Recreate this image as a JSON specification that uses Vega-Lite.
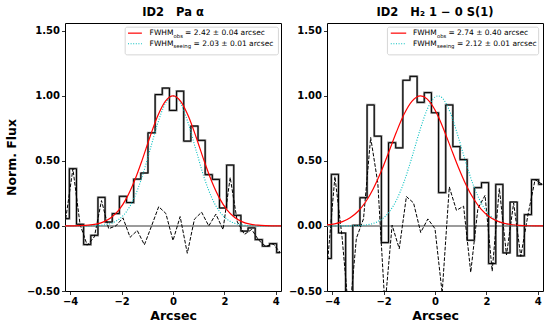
{
  "$schema": "https://vega.github.io/schema/vega-lite/v6.json",
  "padding": {"left": 4, "top": 6, "right": 5, "bottom": 3},
  "spacing": 46,
  "bounds": "flush",
  "datasets": {
    "one": [{}],
    "histL": [
      {"x": -4.17, "f": 0.056, "r": 0.056},
      {"x": -3.892, "f": 0.44, "r": 0.439},
      {"x": -3.614, "f": 0.013, "r": 0.011},
      {"x": -3.336, "f": -0.143, "r": -0.148},
      {"x": -3.058, "f": -0.072, "r": -0.084},
      {"x": -2.78, "f": 0.22, "r": 0.195},
      {"x": -2.502, "f": 0.03, "r": -0.021},
      {"x": -2.224, "f": 0.095, "r": 0.0},
      {"x": -1.946, "f": 0.228, "r": 0.062},
      {"x": -1.668, "f": 0.18, "r": -0.087},
      {"x": -1.39, "f": 0.36, "r": -0.035},
      {"x": -1.112, "f": 0.407, "r": -0.145},
      {"x": -0.834, "f": 0.716, "r": 0.0},
      {"x": -0.556, "f": 1.01, "r": 0.148},
      {"x": -0.278, "f": 1.06, "r": 0.096},
      {"x": 0.0, "f": 0.888, "r": -0.112},
      {"x": 0.278, "f": 1.036, "r": 0.072},
      {"x": 0.556, "f": 0.652, "r": -0.21},
      {"x": 0.834, "f": 0.768, "r": 0.052},
      {"x": 1.112, "f": 0.658, "r": 0.106},
      {"x": 1.39, "f": 0.394, "r": 0.0},
      {"x": 1.668, "f": 0.358, "r": 0.091},
      {"x": 1.946, "f": 0.138, "r": -0.028},
      {"x": 2.224, "f": 0.468, "r": 0.373},
      {"x": 2.502, "f": 0.082, "r": 0.031},
      {"x": 2.78, "f": -0.04, "r": -0.065},
      {"x": 3.058, "f": -0.015, "r": -0.027},
      {"x": 3.336, "f": -0.105, "r": -0.11},
      {"x": 3.614, "f": -0.156, "r": -0.158},
      {"x": 3.892, "f": -0.136, "r": -0.137},
      {"x": 4.17, "f": -0.205, "r": -0.205}
    ],
    "histR": [
      {"x": -4.17, "f": -0.25, "r": -0.258},
      {"x": -3.892, "f": 0.397, "r": 0.38},
      {"x": -3.614, "f": -0.054, "r": -0.086},
      {"x": -3.336, "f": -0.65, "r": -0.71},
      {"x": -3.058, "f": 0.005, "r": -0.095},
      {"x": -2.78, "f": 0.217, "r": 0.055},
      {"x": -2.502, "f": 0.93, "r": 0.68},
      {"x": -2.224, "f": 0.69, "r": 0.33},
      {"x": -1.946, "f": -0.128, "r": -0.618},
      {"x": -1.668, "f": 0.64, "r": 0.006},
      {"x": -1.39, "f": 0.6, "r": -0.175},
      {"x": -1.112, "f": 1.12, "r": 0.226},
      {"x": -0.834, "f": 1.15, "r": 0.177},
      {"x": -0.556, "f": 0.95, "r": -0.05},
      {"x": -0.278, "f": 1.025, "r": 0.054},
      {"x": 0.0, "f": 0.87, "r": -0.021},
      {"x": 0.278, "f": 0.256, "r": -0.515},
      {"x": 0.556, "f": 0.93, "r": 0.3},
      {"x": 0.834, "f": 0.61, "r": 0.12},
      {"x": 1.112, "f": 0.51, "r": 0.152},
      {"x": 1.39, "f": -0.11, "r": -0.356},
      {"x": 1.668, "f": 0.294, "r": 0.134},
      {"x": 1.946, "f": 0.333, "r": 0.235},
      {"x": 2.224, "f": -0.289, "r": -0.347},
      {"x": 2.502, "f": 0.32, "r": 0.289},
      {"x": 2.78, "f": -0.207, "r": -0.223},
      {"x": 3.058, "f": 0.184, "r": 0.176},
      {"x": 3.336, "f": -0.23, "r": -0.234},
      {"x": 3.614, "f": 0.087, "r": 0.085},
      {"x": 3.892, "f": 0.356, "r": 0.356},
      {"x": 4.17, "f": 0.32, "r": 0.32}
    ],
    "curveL": [
      {"x": -4.2, "obs": 0.0002, "see": 0.0},
      {"x": -3.9, "obs": 0.0008, "see": 0.0},
      {"x": -3.6, "obs": 0.0022, "see": 0.0002},
      {"x": -3.3, "obs": 0.0058, "see": 0.0007},
      {"x": -3.0, "obs": 0.0141, "see": 0.0023},
      {"x": -2.7, "obs": 0.0317, "see": 0.0074},
      {"x": -2.4, "obs": 0.0655, "see": 0.0207},
      {"x": -2.1, "obs": 0.124, "see": 0.0514},
      {"x": -1.8, "obs": 0.216, "see": 0.113},
      {"x": -1.5, "obs": 0.345, "see": 0.22},
      {"x": -1.2, "obs": 0.506, "see": 0.379},
      {"x": -0.9, "obs": 0.682, "see": 0.58},
      {"x": -0.6, "obs": 0.843, "see": 0.785},
      {"x": -0.3, "obs": 0.958, "see": 0.941},
      {"x": 0.0, "obs": 1.0, "see": 1.0},
      {"x": 0.3, "obs": 0.958, "see": 0.941},
      {"x": 0.6, "obs": 0.843, "see": 0.785},
      {"x": 0.9, "obs": 0.682, "see": 0.58},
      {"x": 1.2, "obs": 0.506, "see": 0.379},
      {"x": 1.5, "obs": 0.345, "see": 0.22},
      {"x": 1.8, "obs": 0.216, "see": 0.113},
      {"x": 2.1, "obs": 0.124, "see": 0.0514},
      {"x": 2.4, "obs": 0.0655, "see": 0.0207},
      {"x": 2.7, "obs": 0.0317, "see": 0.0074},
      {"x": 3.0, "obs": 0.0141, "see": 0.0023},
      {"x": 3.3, "obs": 0.0058, "see": 0.0007},
      {"x": 3.6, "obs": 0.0022, "see": 0.0002},
      {"x": 3.9, "obs": 0.0008, "see": 0.0},
      {"x": 4.2, "obs": 0.0002, "see": 0.0}
    ],
    "curveR": [
      {"x": -4.2, "obs": 0.0075, "see": 0.0},
      {"x": -3.9, "obs": 0.0162, "see": 0.0001},
      {"x": -3.6, "obs": 0.033, "see": 0.0002},
      {"x": -3.3, "obs": 0.0625, "see": 0.0007},
      {"x": -3.0, "obs": 0.111, "see": 0.0025},
      {"x": -2.7, "obs": 0.184, "see": 0.0074},
      {"x": -2.4, "obs": 0.2865, "see": 0.0199},
      {"x": -2.1, "obs": 0.4165, "see": 0.0478},
      {"x": -1.8, "obs": 0.567, "see": 0.103},
      {"x": -1.5, "obs": 0.722, "see": 0.198},
      {"x": -1.2, "obs": 0.86, "see": 0.341},
      {"x": -0.9, "obs": 0.958, "see": 0.526},
      {"x": -0.56, "obs": 1.0, "see": 0.752},
      {"x": -0.3, "obs": 0.975, "see": 0.897},
      {"x": 0.0, "obs": 0.891, "see": 0.991},
      {"x": 0.12, "obs": 0.843, "see": 1.0},
      {"x": 0.3, "obs": 0.761, "see": 0.98},
      {"x": 0.6, "obs": 0.608, "see": 0.868},
      {"x": 0.9, "obs": 0.455, "see": 0.687},
      {"x": 1.2, "obs": 0.3186, "see": 0.487},
      {"x": 1.5, "obs": 0.2087, "see": 0.309},
      {"x": 1.8, "obs": 0.128, "see": 0.175},
      {"x": 2.1, "obs": 0.0733, "see": 0.089},
      {"x": 2.4, "obs": 0.0393, "see": 0.0405},
      {"x": 2.7, "obs": 0.0197, "see": 0.0165},
      {"x": 3.0, "obs": 0.0093, "see": 0.006},
      {"x": 3.3, "obs": 0.0041, "see": 0.002},
      {"x": 3.6, "obs": 0.0017, "see": 0.0006},
      {"x": 3.9, "obs": 0.0007, "see": 0.0002},
      {"x": 4.2, "obs": 0.0002, "see": 0.0}
    ]
  },
  "hconcat": [
    {
      "width": 216,
      "height": 268,
      "title": {"text": "ID2\u00a0\u00a0\u00a0Pa α"},
      "layer": [
        {
          "data": {"name": "histL"},
          "mark": {"type": "line", "interpolate": "step", "color": "#8a8a8a", "strokeWidth": 2.2, "clip": true},
          "encoding": {
            "x": {"field": "x", "type": "quantitative", "scale": {"domain": [-4.2, 4.2], "nice": false, "zero": false},
                  "axis": {"values": [-4, -3, -2, -1, 0, 1, 2, 3, 4], "labelExpr": "datum.value % 2 === 0 ? datum.label : ''", "title": "Arcsec"}},
            "y": {"field": "f", "type": "quantitative", "scale": {"domain": [-0.5, 1.56], "nice": false, "zero": false},
                  "axis": {"values": [-0.5, -0.25, 0, 0.25, 0.5, 0.75, 1, 1.25, 1.5], "format": ".2f", "title": "Norm. Flux"}}
          }
        },
        {
          "data": {"name": "one"},
          "mark": {"type": "rule", "color": "#7a7a7a", "strokeWidth": 1.5},
          "encoding": {"y": {"datum": 0, "type": "quantitative"}}
        },
        {
          "data": {"name": "histL"},
          "mark": {"type": "line", "interpolate": "step", "color": "#000000", "strokeWidth": 1, "clip": true},
          "encoding": {"x": {"field": "x", "type": "quantitative"}, "y": {"field": "f", "type": "quantitative"}}
        },
        {
          "data": {"name": "histL"},
          "mark": {"type": "line", "color": "#000000", "strokeWidth": 1, "strokeDash": [3.7, 1.6], "clip": true},
          "encoding": {"x": {"field": "x", "type": "quantitative"}, "y": {"field": "r", "type": "quantitative"}}
        },
        {
          "data": {"name": "curveL"},
          "mark": {"type": "line", "interpolate": "monotone", "color": "#00bfbf", "strokeWidth": 1.1, "strokeDash": [1, 1.6], "clip": true},
          "encoding": {"x": {"field": "x", "type": "quantitative"}, "y": {"field": "see", "type": "quantitative"}}
        },
        {
          "data": {"name": "curveL"},
          "mark": {"type": "line", "interpolate": "monotone", "color": "#ff0000", "strokeWidth": 1.2, "clip": true},
          "encoding": {"x": {"field": "x", "type": "quantitative"}, "y": {"field": "obs", "type": "quantitative"}}
        },
        {
          "data": {"name": "one"},
          "mark": {"type": "rect", "fill": "#ffffff", "fillOpacity": 0.8, "stroke": "#cccccc", "strokeWidth": 0.8, "cornerRadius": 2},
          "encoding": {"x": {"datum": -1.86, "type": "quantitative"}, "x2": {"datum": 4.1}, "y": {"datum": 1.528, "type": "quantitative"}, "y2": {"datum": 1.315}}
        },
        {
          "data": {"name": "one"},
          "mark": {"type": "rule", "color": "#ff0000", "strokeWidth": 1.2},
          "encoding": {"x": {"datum": -1.75, "type": "quantitative"}, "x2": {"datum": -1.21}, "y": {"datum": 1.482, "type": "quantitative"}}
        },
        {
          "data": {"name": "one"},
          "mark": {"type": "rule", "color": "#00bfbf", "strokeWidth": 1.1, "strokeDash": [1, 1.6]},
          "encoding": {"x": {"datum": -1.75, "type": "quantitative"}, "x2": {"datum": -1.21}, "y": {"datum": 1.4, "type": "quantitative"}}
        },
        {
          "data": {"name": "one"},
          "mark": {"type": "text", "align": "left", "baseline": "middle", "fontSize": 7.5, "color": "#000"},
          "encoding": {"x": {"datum": -0.91, "type": "quantitative"}, "y": {"datum": 1.482, "type": "quantitative"}, "text": {"value": "FWHM"}}
        },
        {
          "data": {"name": "one"},
          "mark": {"type": "text", "align": "left", "baseline": "middle", "fontSize": 5.3, "dx": 24, "dy": 2.5, "color": "#000"},
          "encoding": {"x": {"datum": -0.91, "type": "quantitative"}, "y": {"datum": 1.482, "type": "quantitative"}, "text": {"value": "obs"}}
        },
        {
          "data": {"name": "one"},
          "mark": {"type": "text", "align": "left", "baseline": "middle", "fontSize": 7.5, "dx": 35.5, "color": "#000"},
          "encoding": {"x": {"datum": -0.91, "type": "quantitative"}, "y": {"datum": 1.482, "type": "quantitative"}, "text": {"value": "= 2.42 ± 0.04 arcsec"}}
        },
        {
          "data": {"name": "one"},
          "mark": {"type": "text", "align": "left", "baseline": "middle", "fontSize": 7.5, "color": "#000"},
          "encoding": {"x": {"datum": -0.91, "type": "quantitative"}, "y": {"datum": 1.4, "type": "quantitative"}, "text": {"value": "FWHM"}}
        },
        {
          "data": {"name": "one"},
          "mark": {"type": "text", "align": "left", "baseline": "middle", "fontSize": 5.3, "dx": 24, "dy": 2.5, "color": "#000"},
          "encoding": {"x": {"datum": -0.91, "type": "quantitative"}, "y": {"datum": 1.4, "type": "quantitative"}, "text": {"value": "seeing"}}
        },
        {
          "data": {"name": "one"},
          "mark": {"type": "text", "align": "left", "baseline": "middle", "fontSize": 7.5, "dx": 44, "color": "#000"},
          "encoding": {"x": {"datum": -0.91, "type": "quantitative"}, "y": {"datum": 1.4, "type": "quantitative"}, "text": {"value": "= 2.03 ± 0.01 arcsec"}}
        }
      ]
    },
    {
      "width": 216,
      "height": 268,
      "title": {"text": "ID2\u00a0\u00a0\u00a0H₂ 1 − 0 S(1)"},
      "layer": [
        {
          "data": {"name": "histR"},
          "mark": {"type": "line", "interpolate": "step", "color": "#8a8a8a", "strokeWidth": 2.2, "clip": true},
          "encoding": {
            "x": {"field": "x", "type": "quantitative", "scale": {"domain": [-4.2, 4.2], "nice": false, "zero": false},
                  "axis": {"values": [-4, -3, -2, -1, 0, 1, 2, 3, 4], "labelExpr": "datum.value % 2 === 0 ? datum.label : ''", "title": "Arcsec"}},
            "y": {"field": "f", "type": "quantitative", "scale": {"domain": [-0.5, 1.56], "nice": false, "zero": false},
                  "axis": {"values": [-0.5, -0.25, 0, 0.25, 0.5, 0.75, 1, 1.25, 1.5], "format": ".2f", "title": null}}
          }
        },
        {
          "data": {"name": "one"},
          "mark": {"type": "rule", "color": "#7a7a7a", "strokeWidth": 1.5},
          "encoding": {"y": {"datum": 0, "type": "quantitative"}}
        },
        {
          "data": {"name": "histR"},
          "mark": {"type": "line", "interpolate": "step", "color": "#000000", "strokeWidth": 1, "clip": true},
          "encoding": {"x": {"field": "x", "type": "quantitative"}, "y": {"field": "f", "type": "quantitative"}}
        },
        {
          "data": {"name": "histR"},
          "mark": {"type": "line", "color": "#000000", "strokeWidth": 1, "strokeDash": [3.7, 1.6], "clip": true},
          "encoding": {"x": {"field": "x", "type": "quantitative"}, "y": {"field": "r", "type": "quantitative"}}
        },
        {
          "data": {"name": "curveR"},
          "mark": {"type": "line", "interpolate": "monotone", "color": "#00bfbf", "strokeWidth": 1.1, "strokeDash": [1, 1.6], "clip": true},
          "encoding": {"x": {"field": "x", "type": "quantitative"}, "y": {"field": "see", "type": "quantitative"}}
        },
        {
          "data": {"name": "curveR"},
          "mark": {"type": "line", "interpolate": "monotone", "color": "#ff0000", "strokeWidth": 1.2, "clip": true},
          "encoding": {"x": {"field": "x", "type": "quantitative"}, "y": {"field": "obs", "type": "quantitative"}}
        },
        {
          "data": {"name": "one"},
          "mark": {"type": "rect", "fill": "#ffffff", "fillOpacity": 0.8, "stroke": "#cccccc", "strokeWidth": 0.8, "cornerRadius": 2},
          "encoding": {"x": {"datum": -1.85, "type": "quantitative"}, "x2": {"datum": 4.03}, "y": {"datum": 1.528, "type": "quantitative"}, "y2": {"datum": 1.315}}
        },
        {
          "data": {"name": "one"},
          "mark": {"type": "rule", "color": "#ff0000", "strokeWidth": 1.2},
          "encoding": {"x": {"datum": -1.72, "type": "quantitative"}, "x2": {"datum": -1.12}, "y": {"datum": 1.482, "type": "quantitative"}}
        },
        {
          "data": {"name": "one"},
          "mark": {"type": "rule", "color": "#00bfbf", "strokeWidth": 1.1, "strokeDash": [1, 1.6]},
          "encoding": {"x": {"datum": -1.72, "type": "quantitative"}, "x2": {"datum": -1.12}, "y": {"datum": 1.4, "type": "quantitative"}}
        },
        {
          "data": {"name": "one"},
          "mark": {"type": "text", "align": "left", "baseline": "middle", "fontSize": 7.5, "color": "#000"},
          "encoding": {"x": {"datum": -0.86, "type": "quantitative"}, "y": {"datum": 1.482, "type": "quantitative"}, "text": {"value": "FWHM"}}
        },
        {
          "data": {"name": "one"},
          "mark": {"type": "text", "align": "left", "baseline": "middle", "fontSize": 5.3, "dx": 24, "dy": 2.5, "color": "#000"},
          "encoding": {"x": {"datum": -0.86, "type": "quantitative"}, "y": {"datum": 1.482, "type": "quantitative"}, "text": {"value": "obs"}}
        },
        {
          "data": {"name": "one"},
          "mark": {"type": "text", "align": "left", "baseline": "middle", "fontSize": 7.5, "dx": 35.5, "color": "#000"},
          "encoding": {"x": {"datum": -0.86, "type": "quantitative"}, "y": {"datum": 1.482, "type": "quantitative"}, "text": {"value": "= 2.74 ± 0.40 arcsec"}}
        },
        {
          "data": {"name": "one"},
          "mark": {"type": "text", "align": "left", "baseline": "middle", "fontSize": 7.5, "color": "#000"},
          "encoding": {"x": {"datum": -0.86, "type": "quantitative"}, "y": {"datum": 1.4, "type": "quantitative"}, "text": {"value": "FWHM"}}
        },
        {
          "data": {"name": "one"},
          "mark": {"type": "text", "align": "left", "baseline": "middle", "fontSize": 5.3, "dx": 24, "dy": 2.5, "color": "#000"},
          "encoding": {"x": {"datum": -0.86, "type": "quantitative"}, "y": {"datum": 1.4, "type": "quantitative"}, "text": {"value": "seeing"}}
        },
        {
          "data": {"name": "one"},
          "mark": {"type": "text", "align": "left", "baseline": "middle", "fontSize": 7.5, "dx": 44, "color": "#000"},
          "encoding": {"x": {"datum": -0.86, "type": "quantitative"}, "y": {"datum": 1.4, "type": "quantitative"}, "text": {"value": "= 2.12 ± 0.01 arcsec"}}
        }
      ]
    }
  ],
  "config": {
    "font": "DejaVu Sans",
    "view": {"stroke": "#000000", "strokeWidth": 1},
    "title": {"fontSize": 11.5, "fontWeight": "bold", "anchor": "middle", "offset": 5, "color": "#000000", "font": "DejaVu Sans"},
    "axis": {
      "grid": false,
      "domain": false,
      "ticks": true,
      "tickSize": 3.5,
      "tickWidth": 0.8,
      "tickColor": "#000000",
      "labelFont": "DejaVu Sans",
      "labelFontSize": 10,
      "labelFontWeight": "bold",
      "labelColor": "#000000",
      "labelPadding": 2,
      "labelFlush": false,
      "labelOverlap": false,
      "titleFont": "DejaVu Sans",
      "titleFontSize": 12.5,
      "titleFontWeight": "bold",
      "titleColor": "#000000"
    },
    "axisX": {"titlePadding": 3},
    "axisY": {"titlePadding": 8}
  }
}
